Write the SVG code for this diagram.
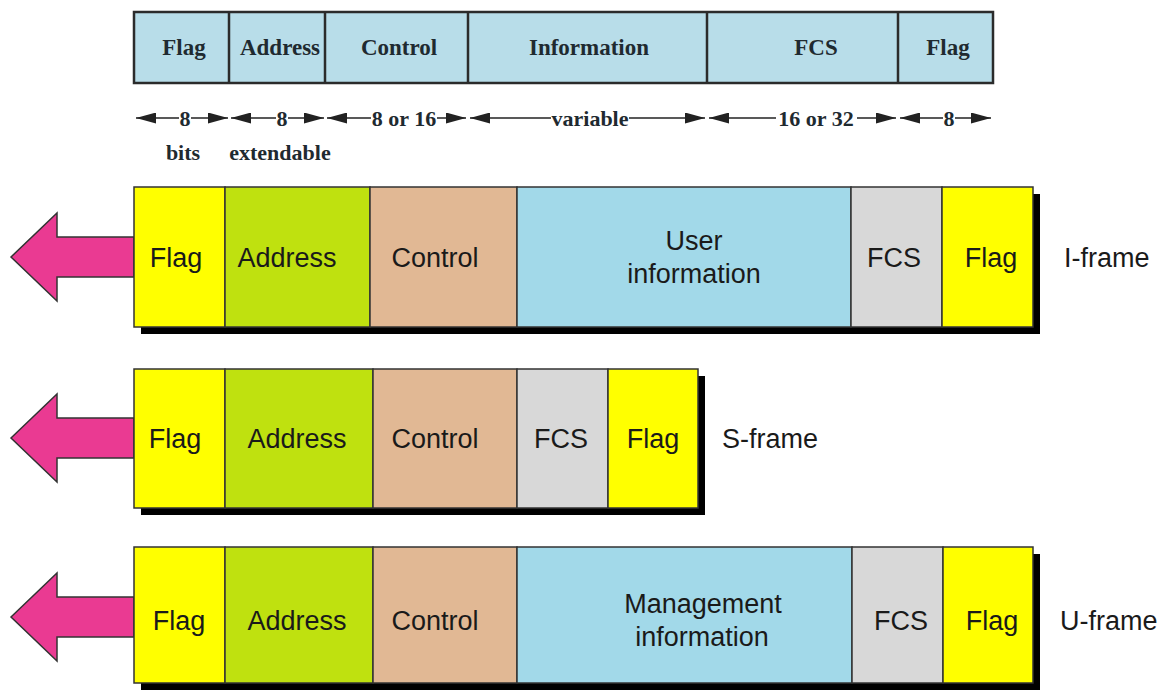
<svg xmlns="http://www.w3.org/2000/svg" width="1168" height="690" viewBox="0 0 1168 690">
<defs>
<style>
.hdr{fill:#b8dde9;stroke:#2b2b2b;stroke-width:2.5}
.ht{font-family:"Liberation Serif",serif;font-weight:bold;font-size:22px;fill:#1f2a30;text-anchor:middle}
.hh{font-size:23px}
.dim{stroke:#222;stroke-width:1.5}
.fl{fill:#ffff00;stroke:#333;stroke-width:1.5}
.ad{fill:#bfe10f;stroke:#333;stroke-width:1.5}
.ct{fill:#e1b894;stroke:#333;stroke-width:1.5}
.in{fill:#a2d9e9;stroke:#333;stroke-width:1.5}
.fc{fill:#d8d8d8;stroke:#333;stroke-width:1.5}
.sh{fill:#000}
.ft{font-family:"Liberation Sans",Arial,sans-serif;font-size:27px;fill:#1a1a1a;text-anchor:middle}
.lb{font-family:"Liberation Sans",Arial,sans-serif;font-size:27px;fill:#1a1a1a}
.arr{fill:#ea3a92;stroke:#333;stroke-width:1.5;stroke-linejoin:miter}
</style>
<marker id="ah" viewBox="0 0 10 10" refX="10" refY="5" markerWidth="20" markerHeight="11" markerUnits="userSpaceOnUse" orient="auto-start-reverse" preserveAspectRatio="none">
<path d="M0,0 L10,5 L0,10 z" fill="#222"/>
</marker>
</defs>

<g id="header">
<rect class="hdr" x="134" y="12" width="859" height="71"/>
<line class="hdr" x1="229" y1="12" x2="229" y2="83"/>
<line class="hdr" x1="325" y1="12" x2="325" y2="83"/>
<line class="hdr" x1="468" y1="12" x2="468" y2="83"/>
<line class="hdr" x1="707" y1="12" x2="707" y2="83"/>
<line class="hdr" x1="898" y1="12" x2="898" y2="83"/>
<text class="ht hh" x="184" y="55">Flag</text>
<text class="ht hh" x="280" y="55">Address</text>
<text class="ht hh" x="399" y="55">Control</text>
<text class="ht hh" x="589" y="55">Information</text>
<text class="ht hh" x="816" y="55">FCS</text>
<text class="ht hh" x="948" y="55">Flag</text>
</g>

<g id="connectors">
<line class="dim" x1="136" y1="118" x2="228" y2="118" marker-start="url(#ah)" marker-end="url(#ah)"/>
<line class="dim" x1="231" y1="118" x2="324" y2="118" marker-start="url(#ah)" marker-end="url(#ah)"/>
<line class="dim" x1="327" y1="118" x2="466" y2="118" marker-start="url(#ah)" marker-end="url(#ah)"/>
<line class="dim" x1="470" y1="118" x2="705" y2="118" marker-start="url(#ah)" marker-end="url(#ah)"/>
<line class="dim" x1="709" y1="118" x2="896" y2="118" marker-start="url(#ah)" marker-end="url(#ah)"/>
<line class="dim" x1="900" y1="118" x2="991" y2="118" marker-start="url(#ah)" marker-end="url(#ah)"/>
</g>

<g id="sizes">
<rect x="179" y="106" width="12" height="22" fill="#fff"/>
<text class="ht" x="185" y="126">8</text>
<rect x="276" y="106" width="12" height="22" fill="#fff"/>
<text class="ht" x="282" y="126">8</text>
<rect x="371" y="106" width="66" height="22" fill="#fff"/>
<text class="ht" x="404" y="126">8 or 16</text>
<rect x="551" y="106" width="78" height="22" fill="#fff"/>
<text class="ht" x="590" y="126">variable</text>
<rect x="776" y="106" width="81" height="22" fill="#fff"/>
<text class="ht" x="816" y="126">16 or 32</text>
<rect x="943" y="106" width="12" height="22" fill="#fff"/>
<text class="ht" x="949" y="126">8</text>
<text class="ht" x="183" y="160">bits</text>
<text class="ht" x="280" y="160">extendable</text>
</g>

<g id="iframe">
<polygon class="arr" points="11,257 57,213 57,237 134,237 134,277 57,277 57,301"/>
<rect class="sh" x="141" y="194" width="899" height="140"/>
<rect class="fl" x="134" y="187" width="91" height="140"/>
<rect class="ad" x="225" y="187" width="145" height="140"/>
<rect class="ct" x="370" y="187" width="147" height="140"/>
<rect class="in" x="517" y="187" width="334" height="140"/>
<rect class="fc" x="851" y="187" width="91" height="140"/>
<rect class="fl" x="942" y="187" width="91" height="140"/>
<text class="ft" x="176" y="267">Flag</text>
<text class="ft" x="287" y="267">Address</text>
<text class="ft" x="435" y="267">Control</text>
<text class="ft" x="694" y="250">User</text>
<text class="ft" x="694" y="283">information</text>
<text class="ft" x="894" y="267">FCS</text>
<text class="ft" x="991" y="267">Flag</text>
<text class="lb" x="1064" y="267">I-frame</text>
</g>

<g id="sframe">
<polygon class="arr" points="11,438 57,394 57,418 134,418 134,458 57,458 57,482"/>
<rect class="sh" x="141" y="376" width="564" height="139"/>
<rect class="fl" x="134" y="369" width="91" height="139"/>
<rect class="ad" x="225" y="369" width="148" height="139"/>
<rect class="ct" x="373" y="369" width="144" height="139"/>
<rect class="fc" x="517" y="369" width="91" height="139"/>
<rect class="fl" x="608" y="369" width="90" height="139"/>
<text class="ft" x="175" y="448">Flag</text>
<text class="ft" x="297" y="448">Address</text>
<text class="ft" x="435" y="448">Control</text>
<text class="ft" x="561" y="448">FCS</text>
<text class="ft" x="653" y="448">Flag</text>
<text class="lb" x="722" y="448">S-frame</text>
</g>

<g id="uframe">
<polygon class="arr" points="11,617 57,573 57,597 134,597 134,637 57,637 57,661"/>
<rect class="sh" x="141" y="554" width="899" height="136"/>
<rect class="fl" x="134" y="547" width="91" height="136"/>
<rect class="ad" x="225" y="547" width="148" height="136"/>
<rect class="ct" x="373" y="547" width="144" height="136"/>
<rect class="in" x="517" y="547" width="335" height="136"/>
<rect class="fc" x="852" y="547" width="91" height="136"/>
<rect class="fl" x="943" y="547" width="90" height="136"/>
<text class="ft" x="179" y="630">Flag</text>
<text class="ft" x="297" y="630">Address</text>
<text class="ft" x="435" y="630">Control</text>
<text class="ft" x="703" y="613">Management</text>
<text class="ft" x="702" y="646">information</text>
<text class="ft" x="901" y="630">FCS</text>
<text class="ft" x="992" y="630">Flag</text>
<text class="lb" x="1060" y="630">U-frame</text>
</g>
</svg>
